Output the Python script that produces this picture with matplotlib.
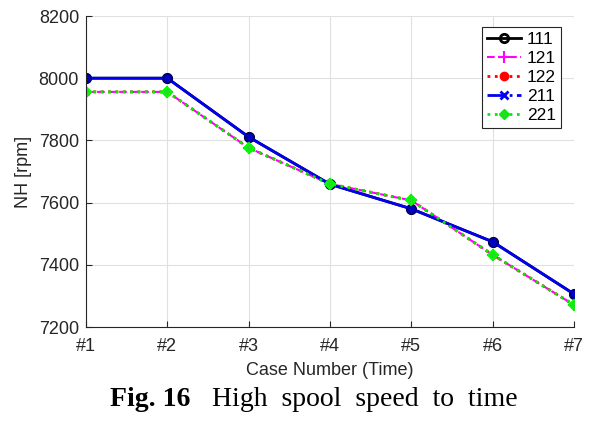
import matplotlib
matplotlib.use("Agg")
import matplotlib.pyplot as plt
from matplotlib.lines import Line2D

cases = ["#1", "#2", "#3", "#4", "#5", "#6", "#7"]
s111 = [8000, 8000, 7811, 7659, 7580, 7474, 7306]
s121 = [7956, 7956, 7776, 7660, 7607, 7432, 7271]
s122 = [7956, 7956, 7776, 7660, 7607, 7432, 7271]
s211 = [8000, 8000, 7811, 7659, 7580, 7474, 7306]
s221 = [7956, 7956, 7776, 7660, 7607, 7432, 7271]
yticks = [7200, 7400, 7600, 7800, 8000, 8200]

plt.rcParams['font.family'] = ['Liberation Sans', 'DejaVu Sans']
fig = plt.figure(figsize=(6.04, 4.21), dpi=100)
ax = fig.add_axes([86/604, 1-327/421, (574-86)/604, (327-16)/421])
x = list(range(len(cases)))

ax.plot(x, s111, '-', color='black', lw=2, marker='o', ms=6, mfc='none', mec='black', mew=2, label='111')
ax.plot(x, s121, '--', color='magenta', lw=1.5, marker='+', ms=8, mew=1.5, label='121')
ax.plot(x, s122, ':', color='red', lw=2, marker='o', ms=5, mfc='red', label='122')
ax.plot(x, s211, '-', color='#0000ee', lw=2, marker='o', ms=6, mfc='#0000cc', mec='#000088', mew=1.5, label='211')
ax.plot(x, s221, ':', color='#00ee00', lw=2, marker='D', ms=5, mfc='#22dd22', mec='#00ff00', mew=1.5, label='221')

ax.set_xlim(0, 6)
ax.set_ylim(7200, 8200)
ax.set_xticks(x)
ax.set_xticklabels(cases)
ax.set_yticks(yticks)
ax.tick_params(direction='in', labelsize=13, length=4, colors='#262626')
ax.tick_params(axis='x', pad=8)
ax.tick_params(axis='y', pad=5)
ax.grid(True, color='#e0e0e0', lw=0.8)
ax.set_axisbelow(True)
for s in ['top', 'right']:
    ax.spines[s].set_visible(False)
for s in ['left', 'bottom']:
    ax.spines[s].set_color('#262626')
ax.set_xlabel('Case Number (Time)', fontsize=13, color='#262626', labelpad=5)
ax.set_ylabel('NH [rpm]', fontsize=13, color='#262626', labelpad=5)

handles = [
    Line2D([], [], color='black', lw=2, marker='o', ms=6, mfc='none', mew=2),
    Line2D([], [], color='magenta', ls='--', lw=1.5, marker='+', ms=9, mew=1.5),
    Line2D([], [], color='red', ls=':', lw=2, marker='o', ms=6),
    Line2D([], [], color='#0000ee', ls='-.', lw=2, marker='x', ms=6, mew=2),
    Line2D([], [], color='#00ee00', ls=':', lw=2, marker='D', ms=5, mfc='#22dd22'),
]
leg = ax.legend(handles, ['111', '121', '122', '211', '221'], loc='upper right',
                bbox_to_anchor=((561-86)/488, 1-(27-16)/311), borderaxespad=0,
                fontsize=12.5, frameon=True, fancybox=False, edgecolor='#262626',
                framealpha=1, handlelength=2.0, handletextpad=0.3,
                labelspacing=0.22, borderpad=0.3)
leg.get_frame().set_linewidth(0.8)

fig.text(110/604, 1-400/421, 'Fig. 16', family='Liberation Serif', fontsize=20,
         fontweight='bold', ha='left', va='center')
fig.text(518/604, 1-400/421, 'High  spool  speed  to  time', family='Liberation Serif',
         fontsize=20, ha='right', va='center')
fig.savefig('out.png', dpi=100)
